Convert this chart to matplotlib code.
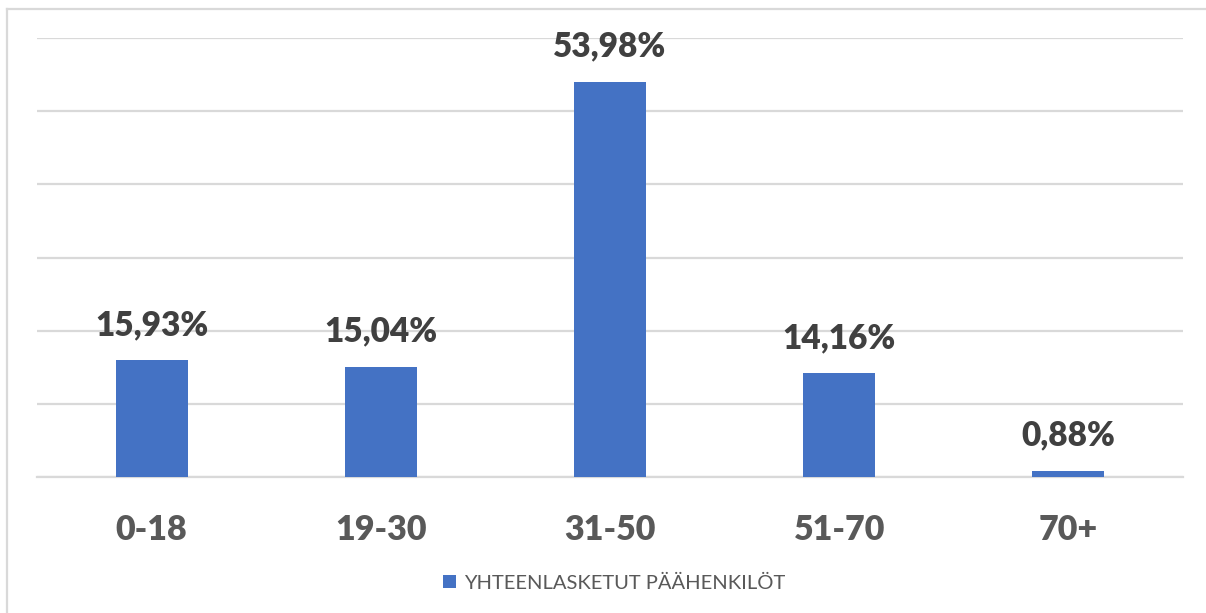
import matplotlib.pyplot as plt
from matplotlib.lines import Line2D
import numpy as np

# age groups and share of main persons (%)
categories = ['0-18', '19-30', '31-50', '51-70', '70+']
shares = [15.93, 15.04, 53.98, 14.16, 0.88]
series_name = 'YHTEENLASKETUT PÄÄHENKILÖT'

bar_color = '#4472C4'
grid_color = '#D9D9D9'

plt.rcParams['font.family'] = ['Lato', 'DejaVu Sans']

fig = plt.figure(figsize=(12.06, 6.13), dpi=100)
ax = fig.add_axes([37 / 1206, 136 / 613, 1146 / 1206, 439 / 613])

x = np.arange(len(categories))
bars = ax.bar(x, shares, width=0.315, color=bar_color, zorder=3,
              label=series_name)

ax.set_xlim(-0.5, len(categories) - 0.5)
ax.set_ylim(0, 60)
ax.set_yticks(np.arange(0, 61, 10))
ax.yaxis.grid(True, color=grid_color, linewidth=1.6)
ax.tick_params(axis='y', left=False, labelleft=False)
ax.tick_params(axis='x', bottom=False, pad=23)
for side in ['top', 'right', 'left']:
    ax.spines[side].set_visible(False)
ax.spines['bottom'].set_color(grid_color)
ax.spines['bottom'].set_linewidth(1.6)

ax.set_xticks(x)
ax.set_xticklabels(categories, fontsize=24.5, fontweight='heavy', color='#595959')

for xi, v in zip(x, shares):
    ax.annotate(f'{v:.2f}%'.replace('.', ','), (xi, v), xytext=(0, 14),
                textcoords='offset points', ha='center', va='bottom',
                fontsize=24, fontweight='heavy', color='#404040', zorder=4)

fig.legend(handles=[bars], labels=[series_name], loc='center',
           bbox_to_anchor=(614 / 1206, 1 - 583 / 613), frameon=False,
           fontsize=14.5, labelcolor='#595959', handlelength=0.65,
           handleheight=0.65, handletextpad=0.4)

# chart frame
fig.add_artist(Line2D([7 / 1206, 7 / 1206], [0, 1 - 9 / 613],
                      transform=fig.transFigure, color='#D9D9D9', linewidth=1.6))
fig.add_artist(Line2D([7 / 1206, 1], [1 - 9 / 613, 1 - 9 / 613],
                      transform=fig.transFigure, color='#D9D9D9', linewidth=1.6))

fig.savefig('out.png', dpi=100)
